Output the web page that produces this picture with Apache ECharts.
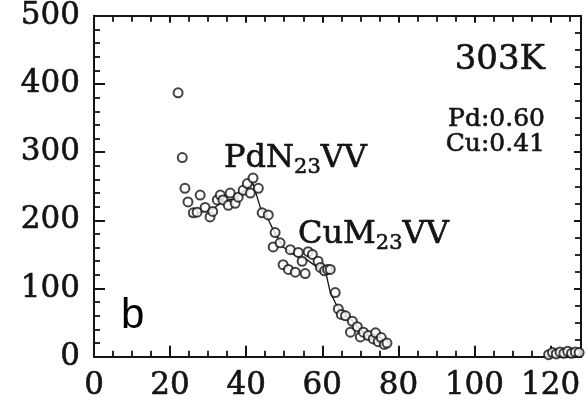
<!DOCTYPE html>
<html>
<head>
<meta charset="utf-8">
<script src="https://cdn.jsdelivr.net/npm/echarts@6/dist/echarts.min.js"></script>
<style>
  html, body { margin: 0; padding: 0; background: #fff; }
  #chart { width: 588px; height: 402px; }
</style>
</head>
<body>
<div id="chart"></div>
<script>
// Auger intensity vs. kinetic energy, 303K, Pd:0.60 Cu:0.41
const xTicks = [0, 20, 40, 60, 80, 100, 120];
const yTicks = [0, 100, 200, 300, 400, 500];

// measured points [energy, intensity]
const measured = [
  [22.1, 387], [23.2, 292], [23.9, 247], [24.7, 227], [26.1, 211], [27.1, 212],
  [27.9, 237], [29.2, 219], [30.5, 205], [31.2, 213], [32.4, 230], [33.2, 237],
  [33.9, 230], [35.3, 222], [35.8, 240], [37.1, 225], [37.9, 234], [39.2, 244],
  [40.3, 254], [41.1, 240], [41.8, 262], [43.2, 247], [44.2, 211], [45.8, 208],
  [47.1, 161], [47.6, 182], [48.9, 167], [49.7, 135], [51.1, 128], [51.6, 157],
  [52.9, 124], [53.7, 153], [54.7, 140], [55.5, 122], [56.3, 154], [57.4, 150],
  [58.9, 140], [59.5, 131], [60.6, 126], [61.4, 128], [62.1, 128], [63.4, 94],
  [64.2, 70], [65.0, 62], [66.1, 60], [67.4, 36], [67.9, 52], [69.2, 44],
  [70.0, 29], [70.8, 36], [72.1, 31], [73.4, 26], [74.0, 35], [74.7, 22],
  [75.5, 28], [76.3, 18], [77.0, 20],
  [119.5, 3], [120.5, 6], [121.5, 4], [122.5, 7], [123.5, 5], [124.5, 8],
  [125.5, 5], [126.5, 7], [127.5, 6]
];

// fitted curve through the measured points
const fitted = [
  [25.0, 206], [28.0, 212], [31.0, 216], [34.0, 228], [37.0, 232], [40.0, 246],
  [41.8, 254], [43.7, 219], [45.5, 205], [47.1, 186], [49.7, 161], [53.0, 148],
  [56.0, 142], [59.5, 128], [61.0, 122], [62.1, 94], [63.9, 74], [65.5, 62],
  [67.4, 55], [70.0, 40], [73.4, 26], [75.5, 20], [77.0, 15]
];

const SERIF = '"DejaVu Serif", "Liberation Serif", serif';
const INK = '#141414';
const HEAVY = 0.6; // thickens the serif glyphs a little

const measureCtx = document.createElement('canvas').getContext('2d');
function textWidth(str, size, family) {
  measureCtx.font = size + 'px ' + family;
  return measureCtx.measureText(str).width;
}

function serifText(x, y, text, size, align) {
  return {
    type: 'text', x: x, y: y,
    style: {
      text: text, fontSize: size, fontFamily: SERIF, fill: INK,
      stroke: INK, lineWidth: HEAVY,
      align: align, verticalAlign: 'middle'
    }
  };
}

// transition label with subscript, e.g. PdN23VV
function subLabel(x, yMid, head, sub, tail, size, subSize, subDrop) {
  const w1 = textWidth(head, size, SERIF);
  const w2 = textWidth(sub, subSize, SERIF);
  return [
    serifText(x, yMid, head, size, 'left'),
    serifText(x + w1, yMid + subDrop, sub, subSize, 'left'),
    serifText(x + w1 + w2, yMid, tail, size, 'left')
  ];
}

const chart = echarts.init(document.getElementById('chart'), null, { renderer: 'canvas' });

const axisCommon = {
  type: 'value',
  axisLine: { show: true, onZero: false, lineStyle: { color: INK, width: 2 } },
  splitLine: { show: false },
  axisTick: { show: true, inside: true, length: 11, lineStyle: { color: INK, width: 2 } },
  minorTick: { show: true, length: 6, lineStyle: { color: INK, width: 1.8 } }
};

const labelStyle = {
  show: true, margin: 14, color: INK, fontFamily: SERIF, fontSize: 31,
  textBorderColor: INK, textBorderWidth: HEAVY
};

const option = {
  backgroundColor: '#fff',
  animation: false,
  grid: { left: 94, right: 7, top: 13, bottom: 44 },
  xAxis: [
    Object.assign({}, axisCommon, {
      position: 'bottom', min: 0, max: 128, interval: xTicks[1] - xTicks[0],
      minorTick: Object.assign({}, axisCommon.minorTick, { splitNumber: 4 }),
      axisLabel: Object.assign({}, labelStyle, {
        showMaxLabel: false,
        formatter: v => (xTicks.indexOf(v) >= 0 ? String(v) : '')
      })
    }),
    Object.assign({}, axisCommon, {
      position: 'top', min: 0, max: 128, interval: 20,
      minorTick: Object.assign({}, axisCommon.minorTick, { splitNumber: 4 }),
      axisTick: Object.assign({}, axisCommon.axisTick, { length: 7 }),
      axisLabel: { show: false }
    })
  ],
  yAxis: [
    Object.assign({}, axisCommon, {
      position: 'left', min: 0, max: 500, interval: yTicks[1] - yTicks[0],
      minorTick: Object.assign({}, axisCommon.minorTick, { splitNumber: 5 }),
      axisLabel: Object.assign({}, labelStyle, {
        formatter: v => (yTicks.indexOf(v) >= 0 ? String(v) : '')
      })
    }),
    Object.assign({}, axisCommon, {
      position: 'right', min: 0, max: 500, interval: 100,
      minorTick: Object.assign({}, axisCommon.minorTick, { splitNumber: 4 }),
      axisTick: Object.assign({}, axisCommon.axisTick, { length: 7 }),
      axisLabel: { show: false }
    })
  ],
  series: [
    {
      type: 'line',
      data: fitted,
      showSymbol: false,
      smooth: false,
      lineStyle: { color: INK, width: 1.3 },
      z: 2
    },
    {
      type: 'scatter',
      data: measured,
      symbol: 'emptyCircle',
      symbolSize: 9,
      itemStyle: { color: INK, borderColor: INK, borderWidth: 1.8 },
      z: 3
    }
  ],
  graphic: [
    serifText(545, 60, '303K', 34, 'right'),
    serifText(545, 119, 'Pd:0.60', 25, 'right'),
    serifText(545, 144, 'Cu:0.41', 25, 'right'),
    { type: 'text', x: 121, y: 316, style: { text: 'b', fontSize: 42, fontFamily: '"Liberation Sans", Arial, sans-serif', fill: '#000', align: 'left', verticalAlign: 'middle' } }
  ]
    .concat(subLabel(224, 159, 'PdN', '23', 'VV', 32, 21, 9))
    .concat(subLabel(298, 235, 'CuM', '23', 'VV', 32, 21, 9))
};

chart.setOption(option);
</script>
</body>
</html>
